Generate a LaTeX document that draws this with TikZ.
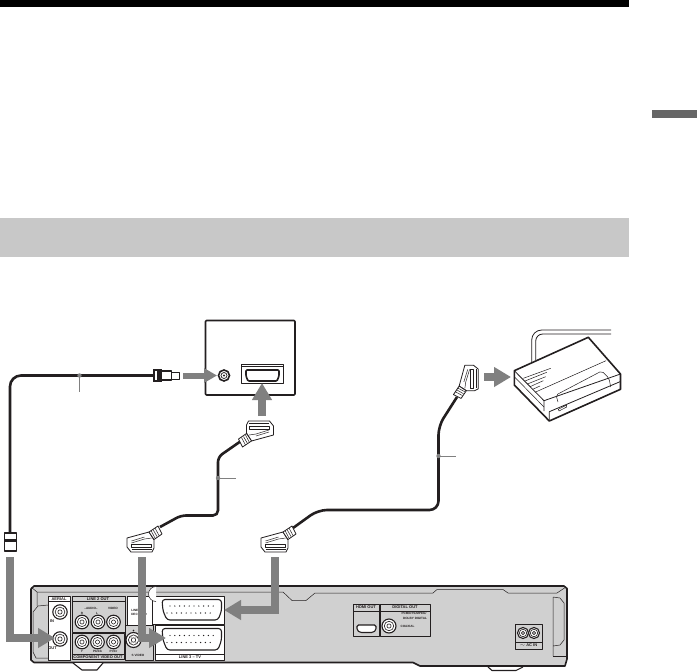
\documentclass[tikz,border=0pt]{standalone}
\usepackage{fontspec}
\setmainfont{Liberation Sans}
\usetikzlibrary{arrows.meta}
\definecolor{arrowgray}{HTML}{808080}
\definecolor{bodygray}{HTML}{D0D0D0}
\definecolor{bandgray}{HTML}{C8C8C8}
\definecolor{tabgray}{HTML}{666666}
\definecolor{cablek}{HTML}{231F20}
\tikzset{
  inkline/.style={draw=cablek,line width=0.8pt,line join=round},
  thinline/.style={draw=cablek,line width=0.5pt,line join=round},
  boldline/.style={draw=cablek,line width=1.6pt,line join=round},
  cableline/.style={draw=cablek,line width=2.6pt,line join=round},
  leader/.style={draw=arrowgray,line width=1pt},
  leaderdot/.style={fill=arrowgray,draw=none},
  bigarrow/.style={draw=arrowgray,line width=8pt,line join=miter,-{Triangle[length=17pt,width=19pt,fill=arrowgray]}},
  smallarrow/.style={draw=arrowgray,line width=6pt,-{Triangle[length=13pt,width=14pt,fill=arrowgray]}},
  panelwhite/.style={thinline,fill=white},
  panelgray/.style={thinline,fill=bodygray},
  micro/.style={font=\fontsize{4}{4.4}\selectfont\bfseries,text=cablek,inner sep=0pt},
  nano/.style={font=\fontsize{3.1}{3.4}\selectfont\bfseries,text=cablek,inner sep=0pt},
}
% jack(center, radius)
\newcommand\jack[2]{%
  \filldraw[draw=cablek,fill=white,line width=1.1pt] #1 circle (#2);
  \draw[draw=cablek,line width=0.6pt] #1 circle ({#2*0.68});
  \draw[draw=cablek,line width=0.6pt] #1 circle ({#2*0.3});
}
% scart plug: centre, axis options
\newcommand\scartplug[2]{%
  \begin{scope}[shift={#1},#2]
    \filldraw[inkline,fill=white] (-13.5,-7) -- (8.5,-13) -- (13.5,-5) -- (13.5,3) -- (11.5,7) -- (-9.5,7) -- (-13.5,2) -- cycle;
    \draw[thinline] (-9,-2) -- (4,-6) -- (11,-7);
    \draw[thinline] (-9,-4) -- (4,-8);
    \draw[thinline] (-9,-1) -- (11,-1) -- (11,2) -- (-9,2) -- cycle;
    \draw[thinline] (-9,4.5) -- (11,4.5);
    \filldraw[inkline,fill=white] (8.5,-13) -- (17.5,-19) -- (21.5,-11) -- (13.5,-5.5) -- cycle;
    \draw[thinline] (10.5,-14.5) -- (14.5,-7) (12.5,-15.5) -- (16.5,-8.5) (14.5,-17) -- (18.5,-9.5);
  \end{scope}
}
% two rows of scart pins
\newcommand\scartpins[2]{%
  \foreach \i in {0,...,9} {
    \fill[cablek] ({#1+4+\i*4.8},{#2-3.5}) circle (0.7);
    \fill[cablek] ({#1+1+\i*4.8},{#2+3.5}) circle (0.7);
  }
}
\begin{document}
\begin{tikzpicture}[x=1pt,y=-1pt]
\useasboundingbox (0,0) rectangle (697,672);
\fill[white] (0,0) rectangle (697,672);
% page furniture
\fill[black] (0,0) rectangle (629,7);
\fill[tabgray] (652,110) rectangle (697,118);
\fill[bandgray] (0,218) rectangle (629,257);

% TV
\draw[boldline,rounded corners=1pt] (205.5,320.5) rectangle (295,395);
\filldraw[draw=cablek,fill=white,line width=1.6pt] (224,375.5) circle (5.5);
\filldraw[draw=cablek,fill=white,line width=0.7pt] (224,375.5) circle (3);
\fill[cablek] (224,375.5) circle (1.1);
\draw[thinline] (241,364) rectangle (283,383.5);
\draw[thinline] (241,366.5) -- (283,366.5);
\draw[boldline,rounded corners=1pt] (246,370) -- (279,370) -- (279,376) -- (277,381) -- (248,381) -- (246,376) -- cycle;

% VCR (decoder box)
\coordinate (vA) at (514.3,370.7);
\coordinate (vB) at (588.3,337.3);
\coordinate (vC) at (620.5,374);
\coordinate (vD) at (620.5,389.3);
\coordinate (vE) at (549.3,421);
\coordinate (vF) at (514.3,385);
\draw[thinline,line width=0.8pt,rounded corners=10pt] (531.7,362) -- (531.7,330) -- (611,330);
\draw[thinline,line width=0.8pt,rounded corners=7pt] (535.7,360) -- (535.7,334) -- (611,334);
\filldraw[boldline,fill=white] (vA) -- (vB) -- (vC) -- (vD) -- (vE) -- (vF) -- cycle;
\draw[inkline] (vA) -- (544,400.7) -- (vC);
\draw[thinline] (535,392.3) -- (606,360.7);
\draw[inkline] (544,400.7) -- (544,411) (549.3,411.7) -- (620,381.7) (549.3,411.7) -- (vE);
\draw[thinline] (514.3,376.7) -- (544,407);
\draw[thinline] (523.3,378.3) -- (550.7,368.3) (525,381) -- (546.7,372.3) (527.3,384) -- (545.7,376.7) (530,386.7) -- (543.3,380.7) (532.7,389.3) -- (540,386);
\draw[thinline,rounded corners=2pt] (558,402) -- (556,395) -- (601.7,371) -- (609,378.3) -- (610.7,387);
\draw[thinline] (558.3,409.3) -- (566.7,405) -- (566.7,407) -- (559,411) -- cycle;

% coax cable
\coordinate (coaxtop) at (153,375.5);
\coordinate (coaxbottom) at (10,532);
\draw[cableline,rounded corners=11pt] (coaxtop) -- (10,375.5) -- (coaxbottom);
\filldraw[inkline,line width=1.1pt,fill=white] (160,371) rectangle (171.5,380);
\filldraw[inkline,line width=0.9pt,fill=white] (171.5,372) rectangle (179,379);
\draw[cablek,line width=1.1pt,fill=white] (154,370) rectangle (161,381);
\fill[cablek] (157,370) rectangle (161,381);
\coordinate (leadA) at (79.5,375.5);
\draw[leader] (leadA) -- (79.5,391.5);
\fill[leaderdot] (leadA) circle (2.2);
% coax plug, lower end
\filldraw[inkline,line width=1.1pt,fill=white] (4.5,533) rectangle (16.5,551);
\fill[cablek] (4.5,539) rectangle (16.5,542);
\fill[cablek] (8,532) rectangle (13,534);

% cable B, TV to recorder
\coordinate (bA) at (160,527);
\coordinate (bB) at (241,441);
\draw[cableline,rounded corners=5pt] (bA) -- (181,515.5) -- (218,515.5) -- (218,457) -- (bB);
\coordinate (leadB) at (218,478);
\draw[leader] (leadB) -- (236,478);
\fill[leaderdot] (leadB) circle (2.2);

% cable C, recorder to decoder box
\coordinate (cA) at (293,528);
\coordinate (cB) at (457,397);
\draw[cableline,rounded corners=9pt] (cA) -- (318,510) -- (438.5,510) -- (438.5,426) -- (cB);
\coordinate (leadC) at (438.5,456);
\draw[leader] (leadC) -- (456,456);
\fill[leaderdot] (leadC) circle (2.2);

% scart plugs
\scartplug{(140.5,545)}{}
\scartplug{(274.5,545)}{}
\scartplug{(260,428)}{x={(-1pt,0pt)},y={(0pt,1pt)}}
\scartplug{(471.5,378)}{x={(0pt,-0.95pt)},y={(0.95pt,0pt)}}

% recorder body
\filldraw[draw=cablek,fill=bodygray,line width=1.6pt,line join=round]
  (34,586) -- (564,586) -- (567,588.5) -- (567,659) -- (565,666) -- (420,666) -- (413,662.5) -- (34,662.5) -- (31,660) -- (31,589) -- cycle;
% feet
\filldraw[inkline,line width=1.1pt,fill=white] (73,663) -- (82,670) -- (97,670) -- (103,663);
\filldraw[inkline,line width=1.1pt,fill=white] (488,667) -- (492,670.5) -- (516,670.5) -- (523,667);
% relief lines
\draw[thinline] (37,592) -- (283,592) -- (292,600.5) -- (306,600.5) -- (315,593) -- (433,593) -- (437,589.5) -- (503,589.5) -- (508,593) -- (557,593) -- (566,587);
\draw[thinline] (31,587) -- (37,592) -- (37,606);
\draw[thinline] (48,605) -- (38,606) -- (33,612) -- (33,652) -- (36,658) -- (48,658);
\draw[thinline] (553,597) -- (553,656) (553,597) -- (560,598) -- (564,603) -- (564,640) -- (560,645) -- (553,646);
\draw[thinline] (553,656.5) -- (566,656.5);

% panels
\draw[panelwhite] (48,596) rectangle (70,660);
\draw[thinline] (48,601) -- (70,601);
\node[micro] (tAerial) at (59,598.7) {AERIAL};
\node[micro] (tIn) at (52,621) {IN};
\node[micro] (tOut) at (52.5,648.5) {OUT};
\jack{(60,612)}{7.2}
\jack{(60,639)}{7.2}

\draw[panelgray] (72,596) rectangle (125,632);
\draw[thinline] (72,601) -- (125,601);
\node[micro] (tLine2) at (98,598.7) {LINE 2 OUT};
\node[nano] (tAudio) at (91,608) {–AUDIO–};
\node[nano] (tR) at (82,613) {R};
\node[nano] (tL) at (97,613) {L};
\node[nano] (tVideo) at (113,608.5) {VIDEO};
\jack{(82,622)}{6.8}
\jack{(98,622)}{6.8}
\jack{(113.5,622)}{6.8}

\draw[panelgray] (72,633) rectangle (124.5,659.5);
\draw[thinline] (72,654) -- (124.5,654);
\node[micro] (tComp) at (98,656.8) {COMPONENT VIDEO OUT};
\node[nano] (tY) at (82,651.5) {Y};
\node[nano] (tPb) at (97.5,651.5) {Pb/Cb};
\node[nano] (tPr) at (113.5,651.5) {Pr/Cr};
\jack{(82,642)}{6.8}
\jack{(97.5,642)}{6.8}
\jack{(113.5,642)}{6.8}

\draw[panelgray] (125,625) rectangle (153,660);
\jack{(133.5,640)}{7.5}
\fill[cablek] (133.5,630.5) circle (0.8);
\foreach \p in {(131,637),(136,637),(131,643),(136,643)} \fill[cablek] \p circle (0.7);
\node[nano] (tSvid) at (138,655.5) {S VIDEO};

\draw[panelwhite] (127,596) rectangle (152,625);
\node[nano,align=left] (tLine1) at (139,612.5) {LINE 1/\\[0.6pt]DECODER};

\draw[panelwhite] (152,596) rectangle (224,624);
\draw[thinline,fill=white] (156,601.5) arc (90:270:7.5);
\filldraw[inkline,line width=1.1pt,fill=white,rounded corners=3pt] (162,599.5) -- (221.5,599.5) -- (221.5,611) -- (218,620) -- (167,620) -- (163,611) -- cycle;
\scartpins{(166)}{(609.5)}

\draw[panelwhite] (155,625) rectangle (224,660);
\draw[thinline] (155,654.5) -- (224,654.5);
\filldraw[inkline,line width=1.1pt,fill=white,rounded corners=3pt] (162,628.5) -- (221.5,628.5) -- (221.5,640) -- (218,650) -- (167,650) -- (163,640) -- cycle;
\scartpins{(166)}{(639)}
\node[micro] (tLine3) at (190,657.3) {LINE 3 – TV};

\draw[thinline] (353,604) rectangle (379,636);
\draw[thinline] (353,611) -- (379,611);
\node[micro] (tHdmi) at (366,607.5) {HDMI OUT};
\filldraw[draw=cablek,fill=white,line width=1.1pt,rounded corners=1.5pt] (357,625) -- (376,625) -- (376,630) -- (373,632.5) -- (360,632.5) -- (357,630) -- cycle;
\draw[thinline] (380,604) rectangle (430,636);
\draw[thinline] (380,611) -- (430,611);
\node[micro] (tDigital) at (405,607.5) {DIGITAL OUT};
\node[nano] (tPcm) at (414,613.5) {PCM/DTS/MPEG/};
\node[nano] (tDolby) at (415,618.5) {DOLBY DIGITAL};
\node[nano] (tCoaxial) at (407.5,626) {COAXIAL};
\jack{(389,626)}{7}
\draw[thinline] (515,624) rectangle (542,649);
\draw[thinline] (515,642) -- (542,642);
\node[micro] (tAc) at (528.5,645.5) {$\sim$ AC IN};
\jack{(523,633)}{5.5}
\jack{(534,633)}{5.5}

% big grey arrows
\coordinate (a1s) at (183,375.5);
\coordinate (a1e) at (217,375.5);
\draw[smallarrow] (a1s) -- (a1e);
\coordinate (a2s) at (262,416);
\coordinate (a2e) at (262,383);
\draw[bigarrow] (a2s) -- (a2e);
\coordinate (a3s) at (484,377);
\coordinate (a3e) at (511,377);
\draw[bigarrow] (a3s) -- (a3e);
\coordinate (a4s) at (10,557);
\coordinate (a4e) at (55,638);
\draw[bigarrow] (a4s) |- (a4e);
\coordinate (a5s) at (142,557);
\coordinate (a5e) at (166,638);
\draw[bigarrow] (a5s) |- (a5e);
\coordinate (a6s) at (274.5,557);
\coordinate (a6e) at (224,610);
\draw[bigarrow] (a6s) |- (a6e);
\end{tikzpicture}
\end{document}
